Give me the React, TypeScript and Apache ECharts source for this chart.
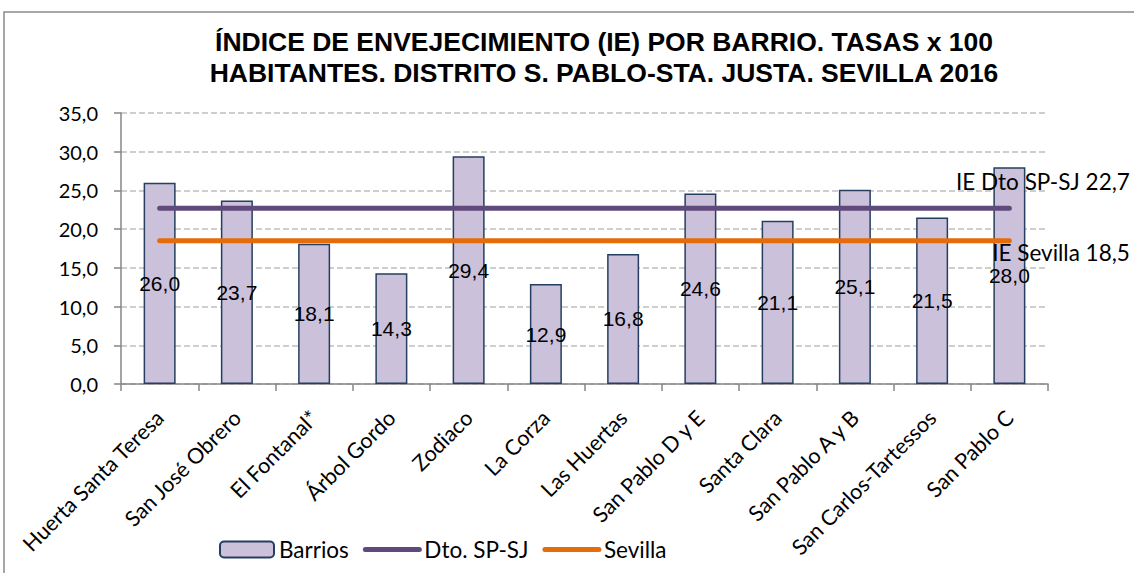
import React, { useEffect, useRef } from "react";
import * as echarts from "echarts";

const categories = [
  "Huerta Santa Teresa",
  "San José Obrero",
  "El Fontanal*",
  "Árbol Gordo",
  "Zodiaco",
  "La Corza",
  "Las Huertas",
  "San Pablo D y E",
  "Santa Clara",
  "San Pablo A y B",
  "San Carlos-Tartessos",
  "San Pablo C",
];
const barrios = [26.0, 23.7, 18.1, 14.3, 29.4, 12.9, 16.8, 24.6, 21.1, 25.1, 21.5, 28.0];
const dtoValue = 22.7;
const sevillaValue = 18.5;
const dtoSeries = categories.map(() => dtoValue);
const sevillaSeries = categories.map(() => sevillaValue);

const fmt = (v: number) => v.toFixed(1).replace(".", ",");

export default function App() {
  const ref = useRef<HTMLDivElement>(null);
  useEffect(() => {
    if (!ref.current) return;
    const chart = echarts.init(ref.current, undefined, { renderer: "svg" });
    const lineData = (vals: number[], text: string, pos: number[]) =>
      vals.map((v, i) =>
        i === vals.length - 1
          ? {
              value: v,
              label: {
                show: true,
                formatter: text,
                position: pos,
                align: "right",
                verticalAlign: "middle",
                fontFamily: "Lato",
                fontSize: 22.5,
                color: "#000",
              },
            }
          : v
      );
    chart.setOption({
      animation: false,
      backgroundColor: "#fff",
      graphic: [
        {
          type: "rect",
          shape: { x: 4, y: 12, width: 1300, height: 800 },
          style: { fill: "none", stroke: "#8a8a8a", lineWidth: 1.5 },
          silent: true,
          z: -10,
        },
        {
          type: "text",
          x: 604,
          y: 57,
          style: {
            text: "ÍNDICE DE ENVEJECIMIENTO (IE) POR BARRIO. TASAS x 100\nHABITANTES. DISTRITO S. PABLO-STA. JUSTA. SEVILLA 2016",
            textAlign: "center",
            textVerticalAlign: "middle",
            font: "bold 26.5px 'Liberation Sans', Arial, sans-serif",
            lineHeight: 31,
            fill: "#000",
          },
        },
      ],
      grid: { left: 121, right: 86, top: 113, bottom: 189 },
      legend: {
        left: 214,
        top: 533,
        itemWidth: 54,
        itemHeight: 16,
        itemGap: 14,
        textStyle: { fontFamily: "Lato", fontSize: 22.5, color: "#000" },
        data: [
          { name: "Barrios" },
          { name: "Dto. SP-SJ", itemStyle: { opacity: 0 }, lineStyle: { width: 5, cap: "round" } },
          { name: "Sevilla", itemStyle: { opacity: 0 }, lineStyle: { width: 5, cap: "round" } },
        ],
      },
      xAxis: {
        type: "category",
        data: categories,
        boundaryGap: true,
        axisLine: { lineStyle: { color: "#868686", width: 1.5 } },
        axisTick: { show: true, length: 7, lineStyle: { color: "#868686", width: 1.5 } },
        axisLabel: {
          interval: 0,
          rotate: 45,
          margin: 30,
          fontFamily: "Lato",
          fontSize: 21.5,
          color: "#000",
        },
      },
      yAxis: {
        type: "value",
        min: 0,
        max: 35,
        interval: 5,
        axisLine: { show: true, lineStyle: { color: "#868686", width: 1.5 } },
        axisTick: { show: true, length: 7, lineStyle: { color: "#868686", width: 1.5 } },
        axisLabel: {
          formatter: (v: number) => fmt(v),
          fontFamily: "Lato",
          fontSize: 20,
          color: "#000",
          margin: 23,
        },
        splitLine: { lineStyle: { color: "#bfbfbf", type: [6, 3], width: 1.5 } },
      },
      series: [
        {
          name: "Barrios",
          type: "bar",
          data: barrios,
          barWidth: 32,
          itemStyle: { color: "#ccc1da", borderColor: "#243f60", borderWidth: 1.5 },
          label: {
            show: true,
            position: "inside",
            formatter: (p: any) => fmt(p.value),
            fontFamily: "'Liberation Sans', Arial",
            fontSize: 21,
            color: "#000",
          },
          z: 1,
        },
        {
          name: "Dto. SP-SJ",
          type: "line",
          data: lineData(dtoSeries, "IE Dto SP-SJ 22,7", [121, -26]),
          symbol: "circle",
          symbolSize: 1,
          showSymbol: true,
          itemStyle: { color: "#604a7b" },
          lineStyle: { color: "#604a7b", width: 5, cap: "round" },
          z: 3,
        },
        {
          name: "Sevilla",
          type: "line",
          data: lineData(sevillaSeries, "IE Sevilla 18,5", [121, 12]),
          symbol: "circle",
          symbolSize: 1,
          showSymbol: true,
          itemStyle: { color: "#e46c0a" },
          lineStyle: { color: "#e46c0a", width: 5, cap: "round" },
          z: 3,
        },
      ],
    });
    return () => chart.dispose();
  }, []);
  return (
    <div
      ref={ref}
      style={{ position: "absolute", left: 0, top: 0, width: 1134, height: 573 }}
    />
  );
}
